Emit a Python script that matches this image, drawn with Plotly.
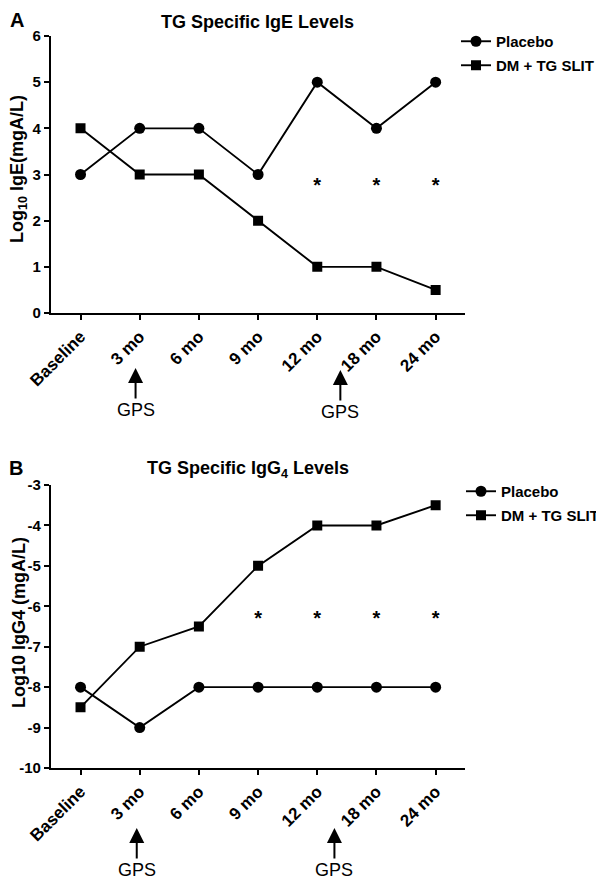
import plotly.graph_objects as go

# data
visits = ["Baseline", "3 mo", "6 mo", "9 mo", "12 mo", "18 mo", "24 mo"]

ige_placebo = [3, 4, 4, 3, 5, 4, 5]
ige_slit = [4, 3, 3, 2, 1, 1, 0.5]
ige_ticks = [0, 1, 2, 3, 4, 5, 6]
ige_star_visits = ["12 mo", "18 mo", "24 mo"]
ige_star_y = 2.72

igg4_placebo = [-8, -9, -8, -8, -8, -8, -8]
igg4_slit = [-8.5, -7, -6.5, -5, -4, -4, -3.5]
igg4_ticks = [-10, -9, -8, -7, -6, -5, -4, -3]
igg4_star_visits = ["9 mo", "12 mo", "18 mo", "24 mo"]
igg4_star_y = -6.33

# GPS arrows sit between categories (category index)
gps_a = [0.93, 4.39]
gps_b = [0.95, 4.29]

# page is 604x885, the browser body adds an 8px margin
OFF = 8
W, H = 604 - OFF, 885 - OFF
FONT = "Arial, Liberation Sans, sans-serif"


def px(x):
    return (x - OFF) / W


def py(y):
    return 1 - (y - OFF) / H


fig = go.Figure()


def add_panel(xa, ya, placebo, slit, legend):
    fig.add_trace(go.Scatter(
        x=visits, y=placebo, name="Placebo", mode="lines+markers",
        xaxis=xa, yaxis=ya, legend=legend, legendgroup=legend + "p",
        line=dict(color="black", width=1.9),
        marker=dict(symbol="circle", size=11, color="black"),
    ))
    fig.add_trace(go.Scatter(
        x=visits, y=slit, name="DM + TG SLIT", mode="lines+markers",
        xaxis=xa, yaxis=ya, legend=legend, legendgroup=legend + "s",
        line=dict(color="black", width=1.9),
        marker=dict(symbol="square", size=10, color="black"),
    ))


add_panel("x", "y", ige_placebo, ige_slit, "legend")
add_panel("x2", "y2", igg4_placebo, igg4_slit, "legend2")

# significance stars
star_font = dict(family=FONT, size=20, color="black", weight=700)
fig.add_trace(go.Scatter(
    x=ige_star_visits, y=[ige_star_y] * len(ige_star_visits),
    mode="text", text=["*"] * len(ige_star_visits), textfont=star_font,
    xaxis="x", yaxis="y", showlegend=False, hoverinfo="skip",
))
fig.add_trace(go.Scatter(
    x=igg4_star_visits, y=[igg4_star_y] * len(igg4_star_visits),
    mode="text", text=["*"] * len(igg4_star_visits), textfont=star_font,
    xaxis="x2", yaxis="y2", showlegend=False, hoverinfo="skip",
))

xax = dict(
    type="category", range=[-0.5, 6.5], domain=[px(51), px(466)],
    showline=True, linecolor="black", linewidth=2,
    ticks="outside", ticklen=5, tickwidth=2, tickcolor="black",
    tickangle=-45, tickfont=dict(family=FONT, size=17, color="black", weight=700),
    showgrid=False, zeroline=False, automargin=False, fixedrange=True,
)
yax = dict(
    showline=True, linecolor="black", linewidth=2,
    ticks="outside", ticklen=5, tickwidth=2, tickcolor="black",
    tickfont=dict(family=FONT, size=15, color="black", weight=700),
    showgrid=False, zeroline=False, automargin=False, fixedrange=True,
)

leg = dict(
    font=dict(family=FONT, size=15, color="black", weight=700),
    xanchor="left", yanchor="top", bgcolor="rgba(0,0,0,0)",
    traceorder="grouped", tracegroupgap=1.5, itemwidth=30,
)

fig.update_layout(
    width=W, height=H,
    margin=dict(l=0, r=0, t=0, b=0),
    paper_bgcolor="white", plot_bgcolor="white",
    font=dict(family=FONT, color="black"),
    xaxis=dict(xax, anchor="y"),
    yaxis=dict(yax, anchor="x", range=[0, 6], domain=[py(313), py(36)],
               tickvals=ige_ticks, ticktext=[str(v) for v in ige_ticks]),
    xaxis2=dict(xax, anchor="y2"),
    yaxis2=dict(yax, anchor="x2", range=[-10, -3], domain=[py(768), py(485)],
                tickvals=igg4_ticks, ticktext=[str(v) for v in igg4_ticks]),
    legend=dict(leg, x=px(456), y=py(25)),
    legend2=dict(leg, x=px(462), y=py(475)),
)

bold = dict(family=FONT, color="black", weight=700)
ann = [
    dict(text="B", x=px(16), y=py(468), font=dict(bold, size=20)),
    dict(text="TG Specific IgE Levels", x=px(258), y=py(22), font=dict(bold, size=18)),
    dict(text="TG Specific IgG<sub>4</sub> Levels", x=px(248), y=py(469),
         font=dict(bold, size=18)),
    dict(text="Log<sub>10</sub> IgE(mgA/L)", x=px(19), y=py(169), textangle=-90,
         font=dict(bold, size=18)),
    dict(text="Log10 IgG4 (mgA/L)", x=px(19), y=py(622), textangle=-90,
         font=dict(bold, size=18)),
]
for a in ann:
    fig.add_annotation(xref="paper", yref="paper", showarrow=False,
                       xanchor="center", yanchor="middle", **a)
# panel letter A hangs from the top edge so it is not clipped
fig.add_annotation(text="A", x=px(17), y=1, xref="paper", yref="paper",
                   showarrow=False, xanchor="center", yanchor="top", borderpad=0,
                   font=dict(bold, size=20))

# GPS arrows (head under the axis labels, text below)
gps_font = dict(family=FONT, size=18, color="black")
for xv, head in zip(gps_a, [368, 370]):
    fig.add_annotation(
        x=xv, y=py(head), xref="x", yref="paper",
        text="GPS", showarrow=True, ax=0, ay=42,
        arrowhead=2, arrowsize=1.5, arrowwidth=2, arrowcolor="black",
        font=gps_font,
    )
for xv in gps_b:
    fig.add_annotation(
        x=xv, y=py(828), xref="x2", yref="paper",
        text="GPS", showarrow=True, ax=0, ay=42,
        arrowhead=2, arrowsize=1.5, arrowwidth=2, arrowcolor="black",
        font=gps_font,
    )

fig.write_html("out.html")
